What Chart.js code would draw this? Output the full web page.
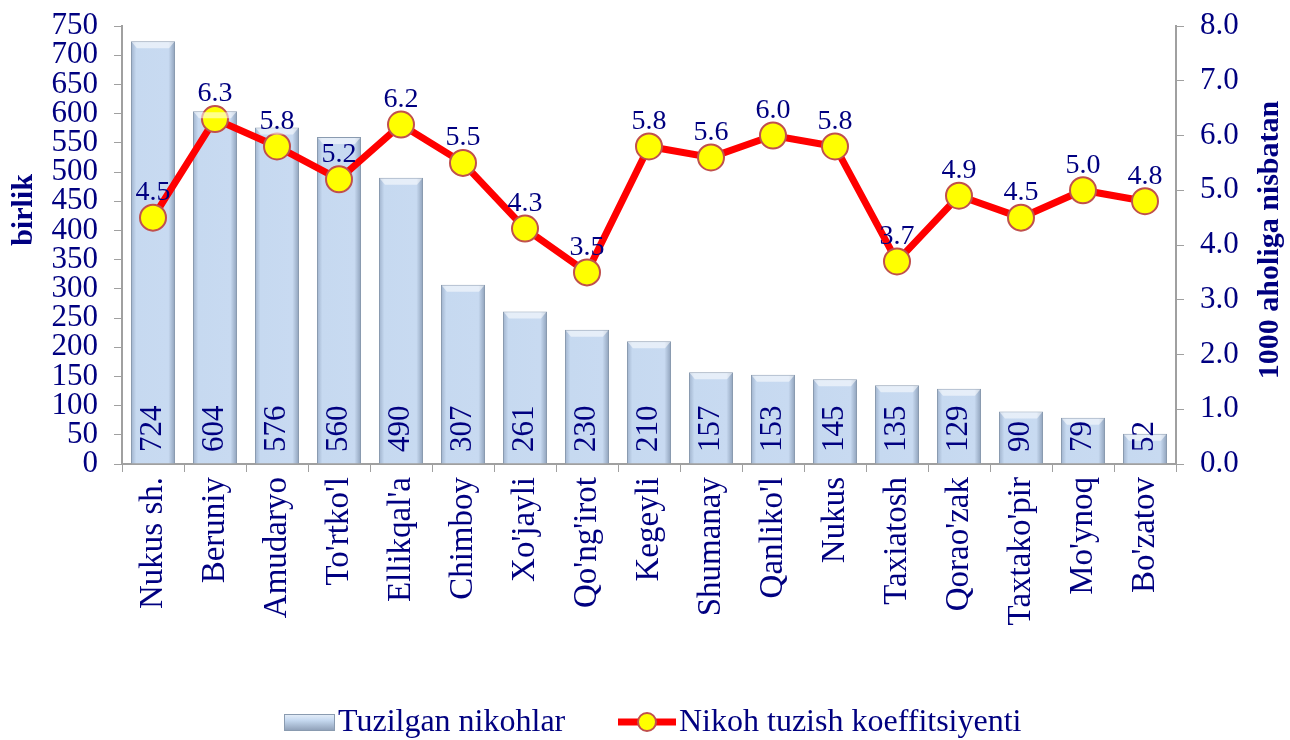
<!DOCTYPE html>
<html>
<head>
<meta charset="utf-8">
<script src="https://cdn.jsdelivr.net/npm/chart.js@4"></script>
<style>
  html, body { margin: 0; padding: 0; background: #fff; }
  #wrap { width: 1290px; height: 740px; }
</style>
</head>
<body>
<div id="wrap"><canvas id="myChart" width="1290" height="740"></canvas></div>
<script>
// data
const districts = ["Nukus sh.", "Beruniy", "Amudaryo", "To'rtko'l", "Ellikqal'a", "Chimboy", "Xo'jayli",
  "Qo'ng'irot", "Kegeyli", "Shumanay", "Qanliko'l", "Nukus", "Taxiatosh", "Qorao'zak", "Taxtako'pir", "Mo'ynoq", "Bo'zatov"];
const marriages = [724, 604, 576, 560, 490, 307, 261, 230, 210, 157, 153, 145, 135, 129, 90, 79, 52];
const rate = [4.5, 6.3, 5.8, 5.2, 6.2, 5.5, 4.3, 3.5, 5.8, 5.6, 6.0, 5.8, 3.7, 4.9, 4.5, 5.0, 4.8];
const seriesNames = ["Tuzilgan nikohlar", "Nikoh tuzish koeffitsiyenti"];
const axisTitles = ["birlik", "1000 aholiga nisbatan"];

const navy = '#000080';
const serif = "'Liberation Serif', 'Times New Roman', serif";
const barPct = 0.71;

function barFill(c) {
  const chart = c.chart;
  if (!chart.chartArea || c.dataIndex === undefined) return '#c6d9f0';
  const x = chart.scales.x.getPixelForValue(c.dataIndex);
  const w = chart.scales.x.width / districts.length * barPct / 2;
  const g = chart.ctx.createLinearGradient(x - w, 0, x + w, 0);
  g.addColorStop(0, '#9fb2cc');
  g.addColorStop(0.12, '#c6d9f0');
  g.addColorStop(0.85, '#c8daf1');
  g.addColorStop(1, '#8ea1ba');
  return g;
}

// value labels: inside bars (rotated) and above line points
const valueLabels = {
  id: 'valueLabels',
  afterDatasetsDraw(chart) {
    const ctx = chart.ctx;
    const bars = chart.getDatasetMeta(0).data;
    ctx.save();
    // light bevel on bar tops
    bars.forEach(b => {
      const w = b.width / 2;
      ctx.fillStyle = 'rgba(255,255,255,0.55)';
      ctx.beginPath();
      ctx.moveTo(b.x - w + 1, b.y + 1);
      ctx.lineTo(b.x + w - 1, b.y + 1);
      ctx.lineTo(b.x + w - 6, b.y + 7);
      ctx.lineTo(b.x - w + 6, b.y + 7);
      ctx.closePath();
      ctx.fill();
    });
    ctx.fillStyle = navy;
    ctx.font = '31px ' + serif;
    ctx.textAlign = 'left';
    ctx.textBaseline = 'middle';
    bars.forEach((b, i) => {
      ctx.save();
      ctx.translate(b.x, chart.chartArea.bottom - 12);
      ctx.rotate(-Math.PI / 2);
      ctx.fillText(String(marriages[i]), 0, 0);
      ctx.restore();
    });
    const pts = chart.getDatasetMeta(1).data;
    ctx.font = '28px ' + serif;
    ctx.textAlign = 'center';
    ctx.textBaseline = 'bottom';
    pts.forEach((p, i) => {
      ctx.fillText(rate[i].toFixed(1), p.x, p.y - 11);
    });
    ctx.restore();
  }
};

// axis titles and legend
const extras = {
  id: 'extras',
  afterDraw(chart) {
    const ctx = chart.ctx;
    ctx.save();
    ctx.fillStyle = navy;
    ctx.font = 'bold 30px ' + serif;
    ctx.textAlign = 'center';
    ctx.textBaseline = 'middle';
    ctx.save();
    ctx.translate(24, 210);
    ctx.rotate(-Math.PI / 2);
    ctx.fillText(axisTitles[0], 0, 0);
    ctx.restore();
    ctx.save();
    ctx.translate(1270, 240);
    ctx.rotate(-Math.PI / 2);
    ctx.fillText(axisTitles[1], 0, 0);
    ctx.restore();

    // legend
    const ly = 722;
    const g = ctx.createLinearGradient(0, ly - 9, 0, ly + 9);
    g.addColorStop(0, '#eef3fa');
    g.addColorStop(0.4, '#c6d9f0');
    g.addColorStop(1, '#8c9db5');
    ctx.fillStyle = g;
    ctx.fillRect(284, ly - 8, 51, 17);
    ctx.strokeStyle = '#8a9bb0';
    ctx.lineWidth = 1;
    ctx.strokeRect(284.5, ly - 7.5, 50, 16);

    ctx.strokeStyle = '#ff0000';
    ctx.lineWidth = 7;
    ctx.beginPath();
    ctx.moveTo(618, ly);
    ctx.lineTo(676, ly);
    ctx.stroke();
    ctx.beginPath();
    ctx.arc(647, ly, 9, 0, Math.PI * 2);
    ctx.fillStyle = '#ffff00';
    ctx.fill();
    ctx.strokeStyle = '#c0504d';
    ctx.lineWidth = 2;
    ctx.stroke();

    ctx.fillStyle = navy;
    ctx.font = '32px ' + serif;
    ctx.textAlign = 'left';
    ctx.textBaseline = 'middle';
    ctx.fillText(seriesNames[0], 338, ly + 1);
    ctx.fillText(seriesNames[1], 679, ly + 1);
    ctx.restore();
  }
};

const ctx = document.getElementById('myChart');
new Chart(ctx, {
  type: 'bar',
  data: {
    labels: districts,
    datasets: [{
      type: 'bar',
      label: seriesNames[0],
      data: marriages,
      yAxisID: 'y',
      backgroundColor: barFill,
      borderColor: '#8a9bb0',
      borderWidth: 1,
      barPercentage: barPct,
      categoryPercentage: 1,
      order: 2
    }, {
      type: 'line',
      label: seriesNames[1],
      data: rate,
      yAxisID: 'y1',
      borderColor: '#ff0000',
      borderWidth: 7,
      lineTension: 0,
      pointRadius: 13,
      pointBackgroundColor: '#ffff00',
      pointBorderColor: '#c0504d',
      pointBorderWidth: 2,
      order: 1
    }]
  },
  options: {
    responsive: false,
    animation: false,
    layout: { padding: { top: 26, left: 0, right: 0, bottom: 0 } },
    plugins: {
      legend: { display: false },
      tooltip: { enabled: false }
    },
    scales: {
      x: {
        offset: true,
        grid: { offset: true, drawOnChartArea: false, tickLength: 8, color: '#a0a0a0' },
        border: { color: '#a0a0a0', width: 2 },
        ticks: { color: navy, font: { family: serif, size: 33 }, minRotation: 90, maxRotation: 90, padding: 5, autoSkip: false },
        afterFit(s) { s.height = 740 - 464; s.paddingLeft = 0; s.paddingRight = 0; }
      },
      y: {
        position: 'left',
        min: 0, max: 750,
        grid: { drawOnChartArea: false, tickLength: 8, color: '#a0a0a0' },
        border: { color: '#a0a0a0', width: 2 },
        ticks: { stepSize: 50, color: navy, font: { family: serif, size: 31 }, padding: 16, autoSkip: false },
        afterFit(s) { s.width = 122; s.paddingTop = 0; s.paddingBottom = 0; }
      },
      y1: {
        position: 'right',
        min: 0, max: 8,
        grid: { drawOnChartArea: false, tickLength: 8, color: '#a0a0a0' },
        border: { color: '#a0a0a0', width: 2 },
        ticks: { stepSize: 1, color: navy, font: { family: serif, size: 31 }, padding: 16,
          callback: v => Number(v).toFixed(1) },
        afterFit(s) { s.width = 114; s.paddingTop = 0; s.paddingBottom = 0; }
      }
    }
  },
  plugins: [valueLabels, extras]
});
</script>
</body>
</html>
